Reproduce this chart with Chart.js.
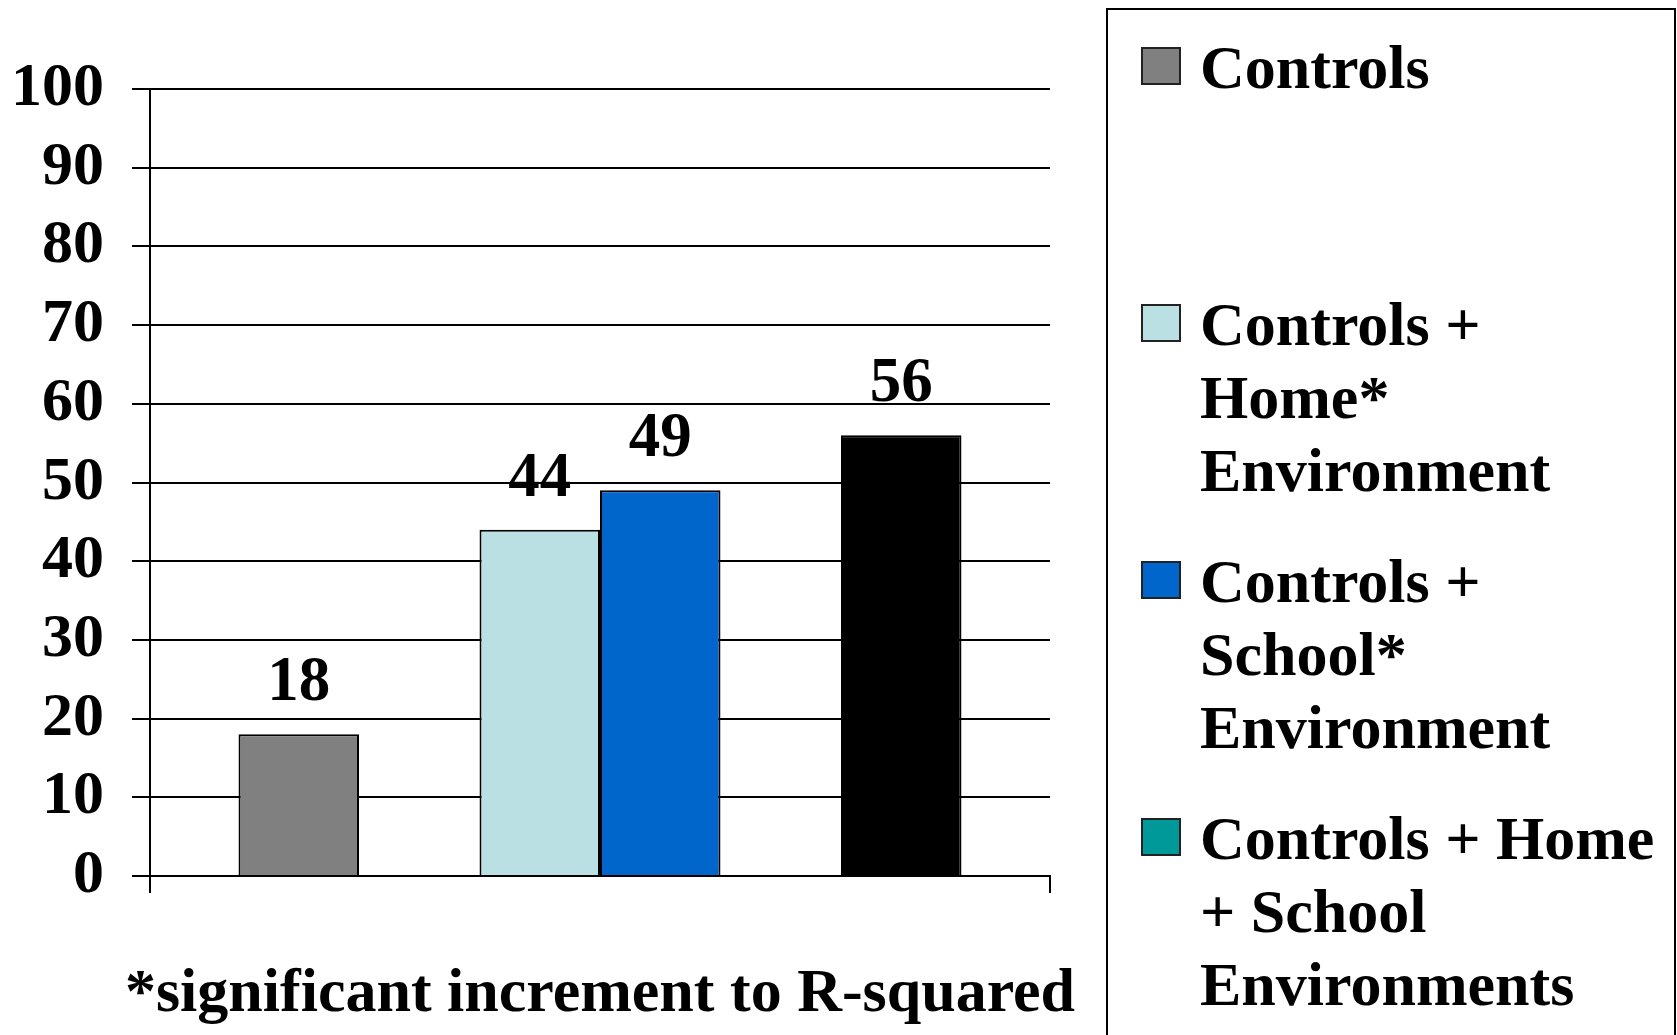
<!DOCTYPE html>
<html lang="en">
<head>
  <meta charset="UTF-8">
  <title>Increment to R-squared</title>
  <script src="https://cdn.jsdelivr.net/npm/chart.js"></script>
  <style>
    html, body {
      margin: 0;
      padding: 0;
      background: #fff;
    }
    body {
      width: 1677px;
      height: 1035px;
      position: relative;
      overflow: hidden;
      font-family: 'Liberation Serif', 'Times New Roman', serif;
      font-weight: bold;
      color: #000;
    }
    .chart-box {
      position: absolute;
      left: 0;
      top: 0;
      width: 1100px;
      height: 1035px;
    }
    .legend {
      position: absolute;
      left: 1106px;
      top: 8px;
      width: 566px;
      height: 1100px;
      border: 2px solid #000;
    }
    .legend-item {
      position: absolute;
      left: 0;
      right: 0;
    }
    .swatch {
      position: absolute;
      left: 33px;
      top: 16px;
      width: 36px;
      height: 34px;
      border: 2px solid #222;
    }
    .legend-text {
      position: absolute;
      left: 92px;
      top: 0;
      font-size: 62px;
      line-height: 73px;
      white-space: pre;
    }
  </style>
</head>
<body>
  <div class="chart-box">
    <canvas id="rsqChart"></canvas>
  </div>
  <div class="legend" id="legend"></div>

  <script>
    const categories = [''];
    const seriesNames = [
      'Controls',
      'Controls +\nHome*\nEnvironment',
      'Controls +\nSchool*\nEnvironment',
      'Controls + Home\n+ School\nEnvironments'
    ];
    const seriesValues = [18, 44, 49, 56];
    const barColors = ['#808080', '#BBE0E3', '#0066CC', '#000000'];
    const legendColors = ['#808080', '#BBE0E3', '#0066CC', '#009999'];
    const yTicks = [0, 10, 20, 30, 40, 50, 60, 70, 80, 90, 100];
    const footnote = '*significant increment to R-squared';

    // bar slots left to right, null = empty slot
    const slotSeries = [0, null, 1, 2, null, 3];

    const serif = "'Liberation Serif', 'Times New Roman', serif";
    Chart.defaults.font.family = serif;
    Chart.defaults.color = '#000';

    const datasets = slotSeries.map(s => {
      if (s === null) return { label: '', data: [null] };
      return {
        label: seriesNames[s],
        data: [seriesValues[s]],
        backgroundColor: barColors[s],
        borderColor: '#000',
        borderWidth: 2
      };
    });

    // numbers above the bars + footnote under the axis
    const valueLabels = {
      id: 'valueLabels',
      afterDatasetsDraw(chart) {
        const ctx = chart.ctx;
        ctx.save();
        ctx.font = 'bold 63px ' + serif;
        ctx.fillStyle = '#000';
        ctx.textAlign = 'center';
        ctx.textBaseline = 'alphabetic';
        chart.data.datasets.forEach((ds, i) => {
          chart.getDatasetMeta(i).data.forEach((bar, j) => {
            const v = ds.data[j];
            if (v == null) return;
            ctx.fillText(String(v), bar.x, bar.y - 34);
          });
        });
        // footnote is wider than the plot, so not drawn as axis title (it gets squeezed)
        const area = chart.chartArea;
        ctx.font = 'bold 62px ' + serif;
        ctx.textBaseline = 'middle';
        ctx.fillText(footnote, (area.left + area.right) / 2, area.bottom + 119);
        ctx.restore();
      }
    };

    new Chart(document.getElementById('rsqChart'), {
      type: 'bar',
      data: { labels: categories, datasets: datasets },
      options: {
        responsive: true,
        maintainAspectRatio: false,
        animation: false,
        layout: { padding: { top: 89, left: 14, right: 50, bottom: 142 } },
        datasets: { bar: { categoryPercentage: 0.8033, barPercentage: 1 } },
        plugins: {
          legend: { display: false },
          tooltip: { enabled: false }
        },
        scales: {
          x: {
            grid: { offset: true, drawOnChartArea: false, color: '#000', lineWidth: 2, tickLength: 17 },
            border: { color: '#000', width: 2 },
            ticks: { display: false }
          },
          y: {
            min: 0,
            max: 100,
            afterBuildTicks: axis => { axis.ticks = yTicks.map(v => ({ value: v })); },
            afterFit: axis => { axis.width = 136; },
            ticks: { color: '#000', padding: 28, font: { size: 62, weight: 'bold' } },
            grid: { color: '#000', lineWidth: 2, tickLength: 18 },
            border: { color: '#000', width: 2 }
          }
        }
      },
      plugins: [valueLabels]
    });

    // legend box on the right
    const legendEl = document.getElementById('legend');
    seriesNames.forEach((name, i) => {
      const item = document.createElement('div');
      item.className = 'legend-item';
      item.style.top = (21 + i * 257) + 'px';
      const sw = document.createElement('div');
      sw.className = 'swatch';
      sw.style.background = legendColors[i];
      const txt = document.createElement('div');
      txt.className = 'legend-text';
      txt.textContent = name;
      item.appendChild(sw);
      item.appendChild(txt);
      legendEl.appendChild(item);
    });
  </script>
</body>
</html>
